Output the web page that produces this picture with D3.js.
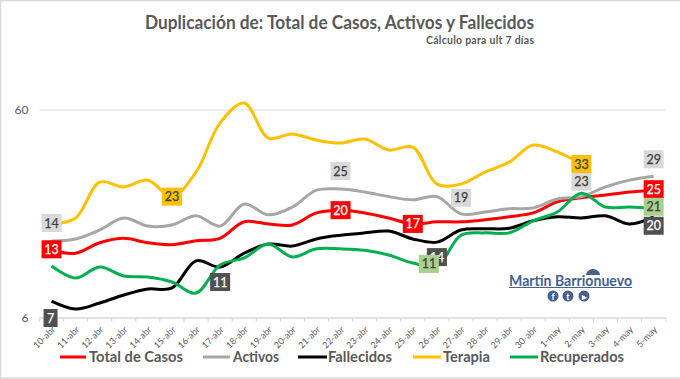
<!DOCTYPE html>
<html><head><meta charset="utf-8">
<script src="https://cdn.jsdelivr.net/npm/d3@7"></script>
<style>html,body{margin:0;padding:0;background:#fff}svg{display:block}text{font-family:Lato,"Open Sans",sans-serif}</style>
</head><body><svg id="c" width="680" height="379"></svg>
<script>
const categories=["10-abr","11-abr","12-abr","13-abr","14-abr","15-abr","16-abr","17-abr","18-abr","19-abr","20-abr","21-abr","22-abr","23-abr","24-abr","25-abr","26-abr","27-abr","28-abr","29-abr","30-abr","1-may","2-may","3-may","4-may","5-may"];
const totalCasos=[12.7,12.3,13.8,14.5,13.8,13.5,14.1,14.5,17.4,17,16.8,19.2,19.8,19.2,18.15,17,17.4,17.4,17.8,18.4,19.2,21.7,22.7,23.4,24.2,24.7];
const activos=[14.07,14.4,15.9,18.15,16.6,16.8,18.6,16.6,21.2,18.8,20.5,24.7,25,24.2,23,22.2,23,19,19.4,20.1,20.3,22.4,23,25.6,27.6,28.8];
const fallecidos=[7.24,6.63,7.08,7.74,8.27,8.37,11.3,10.55,12.3,13.6,13.3,14.4,15,15.4,15.7,14.4,13.9,15.9,16.1,16.2,17.6,18.4,18.15,18.6,17,18.4];
const terapia=[17,18.15,27,25.6,27.6,23,30.2,52,64.8,44,46,43,41.6,43.5,38.5,39.8,26.4,26.4,30.2,33.7,40.7,37.7,33,null,null,null];
const recuperados=[10.67,9.34,10.55,9.55,9.44,8.94,7.91,10.8,11.66,13.6,11.8,12.9,12.9,12.7,12.05,11.03,10.67,15,15.4,15.4,17.6,19.4,23.9,20.5,20.5,20.1];
const seriesNames=["Total de Casos","Activos","Fallecidos","Terapia","Recuperados"];
const seriesValues=[totalCasos,activos,fallecidos,terapia,recuperados];
const yTicks=[6,60];
const labelSeries=[0,0,0,0,1,1,1,1,1,2,2,2,2,3,3,4,4];
const labelCats=["10-abr","22-abr","25-abr","5-may","10-abr","22-abr","27-abr","2-may","5-may","10-abr","17-abr","26-abr","5-may","15-abr","2-may","26-abr","5-may"];
const labelText=["13","20","17","25","14","25","19","23","29","7","11","14","20","23","33","11","21"];

const colors=["#ff0000","#a6a6a6","#000000","#ffc000","#00b050"];
const boxFill=["#ff0000","#d9d9d9","#505050","#ffc000","#a9d18e"];
const boxText=["#ffffff","#404040","#ffffff","#404040","#404040"];
const labelOffset=[[0,-1],[0,0],[0,0],[0,-1],[0,-18],[0,-18],[0,-16],[0,-15],[0,-17],[-1,17],[0,15],[0,15],[0,9],[0,0],[0,0],[-8,-2],[0,-2]];
const legendX=[[60,86,89,94],[203,230,233,46],[298,327,328,64],[413,441,443,47],[510,538,540,84]];

const svg=d3.select("#c");
const x=d3.scaleBand().domain(categories).range([39.5,665.7]);
const y=d3.scaleLog().domain([6,60]).range([318,110]);
const ink="#595959", rule="#d9d9d9";

svg.append("rect").attr("x",0.5).attr("y",0.5).attr("width",690).attr("height",377.5).attr("fill","#fff").attr("stroke",rule).attr("stroke-width",1.5);

svg.append("text").attr("x",339.5).attr("y",28.5).attr("text-anchor","middle").attr("font-size",19).attr("font-weight",700).attr("fill",ink).attr("textLength",389).attr("lengthAdjust","spacingAndGlyphs").text("Duplicación de: Total de Casos, Activos y Fallecidos");
svg.append("text").attr("x",426).attr("y",44).attr("font-size",10.5).attr("font-weight",700).attr("fill",ink).attr("textLength",108).text("Cálculo para ult 7 días");

svg.append("g").selectAll("line").data(yTicks.slice(1)).join("line")
  .attr("x1",39.5).attr("x2",665.7).attr("y1",d=>y(d)).attr("y2",d=>y(d)).attr("stroke",rule).attr("stroke-width",1);

const yAxis=svg.append("g").attr("transform","translate(39.5,0)").call(d3.axisLeft(y).tickValues(yTicks).tickFormat(d3.format("d")).tickSize(0).tickPadding(11));
yAxis.select(".domain").remove();
yAxis.selectAll("text").attr("font-size",12).attr("fill",ink).style("font-family","Lato");

const bandEdges=categories.map(c=>x(c)).concat([x.range()[1]]);
const xAxis=svg.append("g").attr("transform","translate(0,318)");
xAxis.append("line").attr("x1",39.5).attr("x2",665.7).attr("stroke",rule).attr("stroke-width",1.5);
xAxis.selectAll(".t").data(bandEdges).join("line").attr("class","t").attr("x1",d=>d).attr("x2",d=>d).attr("y1",0).attr("y2",4).attr("stroke",rule);
xAxis.selectAll("text").data(categories).join("text")
  .attr("transform",c=>`translate(${x(c)+x.bandwidth()/2+2},${10}) rotate(-45)`)
  .attr("text-anchor","end").attr("font-size",9).attr("fill",ink).attr("dy","0.35em").text(c=>c);

const line=d3.line().defined(d=>d!==null).x((d,i)=>x(categories[i])+x.bandwidth()/2).y(d=>y(d)).curve(d3.curveCatmullRom.alpha(0.5));
svg.append("g").selectAll("path").data(seriesValues).join("path")
  .attr("d",d=>line(d)).attr("fill","none").attr("stroke",(d,i)=>colors[i]).attr("stroke-width",3).attr("stroke-linejoin","round");

const labels=svg.append("g");
labelText.forEach((t,k)=>{
  const s=labelSeries[k], i=categories.indexOf(labelCats[k]);
  const cx=x(categories[i])+x.bandwidth()/2+labelOffset[k][0], cy=y(seriesValues[s][i])+labelOffset[k][1];
  const w=t.length===1?14:20;
  const g=labels.append("g").attr("transform",`translate(${cx},${cy})`);
  g.append("rect").attr("x",-w/2).attr("y",-9).attr("width",w).attr("height",18).attr("fill",boxFill[s]);
  g.append("text").attr("text-anchor","middle").attr("y",4.5).attr("font-size",12.5).attr("font-weight",400).attr("fill",boxText[s]).attr("stroke",boxText[s]).attr("stroke-width",0.25).text(t);
});

const logo="#47608f";
svg.append("text").attr("x",509).attr("y",286).attr("font-size",15).attr("font-weight",700).attr("fill",logo).attr("textLength",123).attr("lengthAdjust","spacingAndGlyphs").text("Martín Barrionuevo");
svg.append("line").attr("x1",509).attr("x2",632).attr("y1",287.5).attr("y2",287.5).attr("stroke",logo);
svg.append("path").attr("d","M586 275a7 6 0 0 1 14 0z").attr("fill",logo);
[[553,"f"],[568,"t"],[584,"▸"]].forEach(([cx,g])=>{
  svg.append("circle").attr("cx",cx).attr("cy",296).attr("r",5.5).attr("fill",logo);
  svg.append("text").attr("x",cx).attr("y",299.5).attr("text-anchor","middle").attr("font-size",9).attr("font-weight",700).attr("fill","#fff").text(g);
});

const leg=svg.append("g");
seriesNames.forEach((n,i)=>{
  const [a,b,tx,w]=legendX[i];
  leg.append("line").attr("x1",a).attr("x2",b).attr("y1",357).attr("y2",357).attr("stroke",colors[i]).attr("stroke-width",3);
  leg.append("text").attr("x",tx).attr("y",362).attr("font-size",15).attr("font-weight",700).attr("fill",ink).attr("textLength",w).attr("lengthAdjust","spacingAndGlyphs").text(n);
});
</script></body></html>
